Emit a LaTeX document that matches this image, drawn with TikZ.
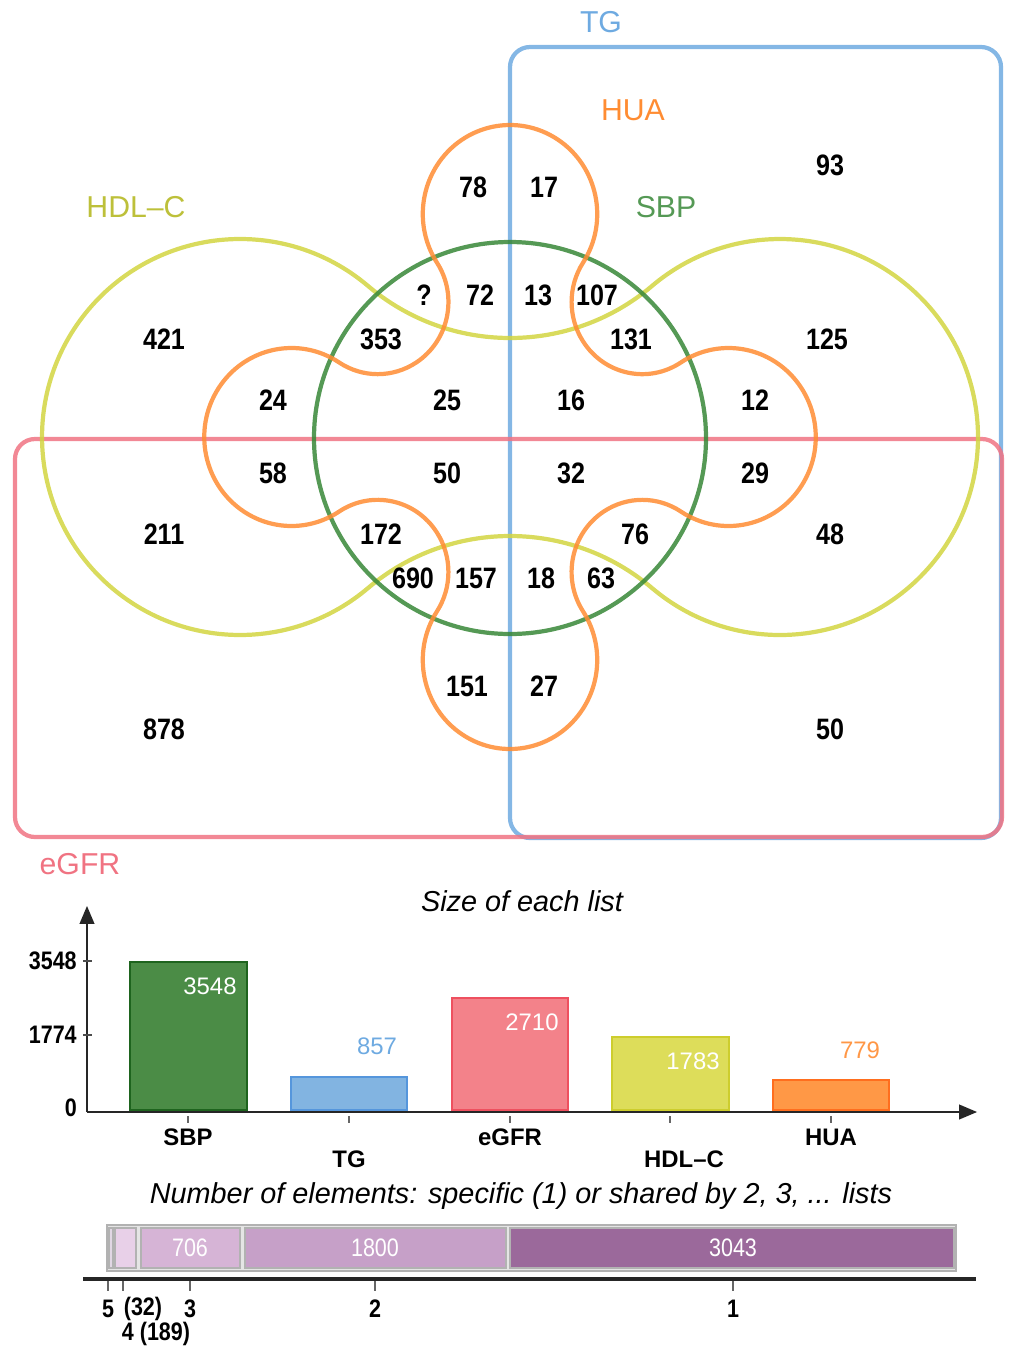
\documentclass[tikz,border=0pt]{standalone}
\usepackage{fontspec}
\setmainfont{Liberation Sans}
\newfontfamily\condfont[FakeStretch=0.85]{Liberation Sans}
\usetikzlibrary{arrows}

\definecolor{sbpgreen}{RGB}{55,135,55}
\definecolor{tgblue}{RGB}{110,170,225}
\definecolor{egfrred}{RGB}{240,115,130}
\definecolor{hdlyellow}{RGB}{210,213,65}
\definecolor{huaorange}{RGB}{255,140,50}
\definecolor{sbpfill}{RGB}{75,140,70}
\definecolor{sbpedge}{RGB}{30,100,30}
\definecolor{tgfill}{RGB}{130,180,225}
\definecolor{tgedge}{RGB}{85,150,220}
\definecolor{egfrfill}{RGB}{243,130,138}
\definecolor{egfredge}{RGB}{238,80,95}
\definecolor{hdlfill}{RGB}{221,221,90}
\definecolor{hdledge}{RGB}{205,205,45}
\definecolor{huafill}{RGB}{255,152,70}
\definecolor{huaedge}{RGB}{255,110,30}
\definecolor{shareA}{RGB}{225,215,228}
\definecolor{shareB}{RGB}{232,208,232}
\definecolor{shareC}{RGB}{214,180,214}
\definecolor{shareD}{RGB}{198,160,200}
\definecolor{shareE}{RGB}{155,105,155}

\begin{document}
\begin{tikzpicture}[x=0.025cm,y=-0.025cm,
  num/.style={font=\condfont\fontsize{21}{22}\selectfont\bfseries,inner sep=0},
  setname/.style={font=\fontsize{21.5}{24}\selectfont,inner sep=0},
  setline/.style={line width=3pt,opacity=0.85},
  title/.style={font=\fontsize{20.5}{24}\selectfont\itshape,inner sep=0},
  tick/.style={font=\condfont\fontsize{18}{20}\selectfont\bfseries,inner sep=0},
  barname/.style={font=\fontsize{17}{20}\selectfont\bfseries,inner sep=0},
  barval/.style={font=\fontsize{17}{20}\selectfont,inner sep=0},
  sharebox/.style={draw=black!30,line width=1.5pt}]
\useasboundingbox (0,0) rectangle (1015,1356);

% list frames
\draw[setline,tgblue,rounded corners=0.5cm] (510,47) rectangle (1001,838);
\draw[setline,egfrred,rounded corners=0.5cm] (15,439) rectangle (1002,837);

\begin{scope}[shift={(510,437)},yscale=-1]
% HDL-C
\draw[setline,hdlyellow] ({270+198*cos(-130.27)},{198*sin(-130.27)})
  arc[start angle=-130.27,end angle=130.27,radius=198]
  arc[start angle=-49.73,end angle=-130.27,radius=219.7]
  arc[start angle=49.73,end angle=310.27,radius=198]
  arc[start angle=130.27,end angle=49.73,radius=219.7] -- cycle;
% SBP
\draw[setline,sbpgreen] (0,-1) circle[radius=196];
% HUA
\draw[setline,huaorange,xscale=0.98] ({223+89*cos(-123.1)},{89*sin(-123.1)})
  \foreach \t in {0,90,180,270}{
    arc[start angle=\t-123.1,end angle=\t+123.1,radius=89]
    arc[start angle=\t-56.9,end angle=\t-213.1,radius=72.15]} -- cycle;
\end{scope}

% list names
\node[setname,text=tgblue] (tg) at (601,22) {TG};
\node[setname,text=huaorange] (hua) at (633,110) {HUA};
\node[setname,text=sbpgreen!85] (sbp) at (666,207) {SBP};
\node[setname,text=hdlyellow!90!black] (hdl) at (136,207) {HDL--C};
\node[setname,text=egfrred] (egfr) at (80,864) {eGFR};

% region counts
\node[num] (c78) at (473,187) {78};
\node[num] (c17) at (544,187) {17};
\node[num] (cq) at (424,295) {?};
\node[num] (c72) at (480,295) {72};
\node[num] (c13) at (538,295) {13};
\node[num] (c107) at (597,295) {107};
\node[num] (c93) at (830,165) {93};
\node[num] (c421) at (164,339) {421};
\node[num] (c353) at (381,339) {353};
\node[num] (c131) at (631,339) {131};
\node[num] (c125) at (827,339) {125};
\node[num] (c24) at (273,400) {24};
\node[num] (c25) at (447,400) {25};
\node[num] (c16) at (571,400) {16};
\node[num] (c12) at (755,400) {12};
\node[num] (c58) at (273,473) {58};
\node[num] (c50a) at (447,473) {50};
\node[num] (c32) at (571,473) {32};
\node[num] (c29) at (755,473) {29};
\node[num] (c211) at (164,534) {211};
\node[num] (c172) at (381,534) {172};
\node[num] (c76) at (635,534) {76};
\node[num] (c48) at (830,534) {48};
\node[num] (c690) at (413,578) {690};
\node[num] (c157) at (476,578) {157};
\node[num] (c18) at (541,578) {18};
\node[num] (c63) at (601,578) {63};
\node[num] (c151) at (467,686) {151};
\node[num] (c27) at (544,686) {27};
\node[num] (c878) at (164,729) {878};
\node[num] (c50b) at (830,729) {50};

% size of each list
\node[title] (sizetitle) at (522,901) {Size of each list};
\coordinate (o) at (87,1112);
\draw[line width=2pt,black!85,-triangle 45] (o) -- (87,906);
\draw[line width=2pt,black!85,-triangle 45] (o) -- (977,1112);
\foreach \y/\v in {961/3548,1035/1774}{
  \draw[line width=1.2pt,black!70] (83,\y) -- (92,\y);
  \node[tick,anchor=east] (y\v) at (77,\y) {\v};}
\node[tick,anchor=east] (y0) at (77,1108) {0};

\draw[line width=1.8pt,fill=sbpfill,draw=sbpedge] (130,1110) rectangle (247,962);
\draw[line width=1.8pt,fill=tgfill,draw=tgedge] (291,1110) rectangle (407,1077);
\draw[line width=1.8pt,fill=egfrfill,draw=egfredge] (452,1110) rectangle (568,998);
\draw[line width=1.8pt,fill=hdlfill,draw=hdledge] (612,1110) rectangle (729,1037);
\draw[line width=1.8pt,fill=huafill,draw=huaedge] (773,1110) rectangle (889,1080);
\draw[line width=2pt,black!85] (87,1112) -- (960,1112);

\node[barval,text=white] (v3548) at (210,986) {3548};
\node[barval,text=tgblue] (v857) at (377,1046) {857};
\node[barval,text=white] (v2710) at (532,1022) {2710};
\node[barval,text=white] (v1783) at (693,1061) {1783};
\node[barval,text=huaorange!90] (v779) at (860,1050) {779};

\foreach \x in {188,349,510,670,831}
  \draw[line width=1.2pt,black!60] (\x,1116) -- (\x,1123);
\node[barname] (bsbp) at (188,1137) {SBP};
\node[barname] (btg) at (349,1159) {TG};
\node[barname] (begfr) at (510,1137) {eGFR};
\node[barname] (bhdl) at (684,1159) {HDL--C};
\node[barname] (bhua) at (831,1137) {HUA};

% shared elements
\node[title] (sharetitle) at (521,1196)
  {Number of elements: specific (1) or shared by 2, 3, ... lists};
\draw[sharebox,fill=black!10] (107,1225) rectangle (956,1271);
\draw[sharebox,fill=shareA] (109,1228) rectangle (113,1268);
\draw[sharebox,fill=shareB] (115,1228) rectangle (136,1268);
\draw[sharebox,fill=shareC] (141,1228) rectangle (240,1268);
\draw[sharebox,fill=shareD] (245,1228) rectangle (506,1268);
\draw[sharebox,fill=shareE] (510,1228) rectangle (954,1268);
\node[barval,font=\condfont\fontsize{18}{20}\selectfont,text=white] (s706) at (190,1248) {706};
\node[barval,font=\condfont\fontsize{18}{20}\selectfont,text=white] (s1800) at (375,1248) {1800};
\node[barval,font=\condfont\fontsize{18}{20}\selectfont,text=white] (s3043) at (733,1248) {3043};

\draw[line width=2.2pt,black!85] (83,1279) -- (976,1279);
\foreach \x in {108,123,190,375,733}
  \draw[line width=1.2pt,black!60] (\x,1281) -- (\x,1291);
\node[tick] (k5) at (108,1309) {5};
\node[tick] (k32) at (143,1309) {(32)};
\node[tick] (k3) at (190,1309) {3};
\node[tick] (k2) at (375,1309) {2};
\node[tick] (k1) at (733,1309) {1};
\node[tick] (k4) at (156,1334) {4 (189)};
\end{tikzpicture}
\end{document}
